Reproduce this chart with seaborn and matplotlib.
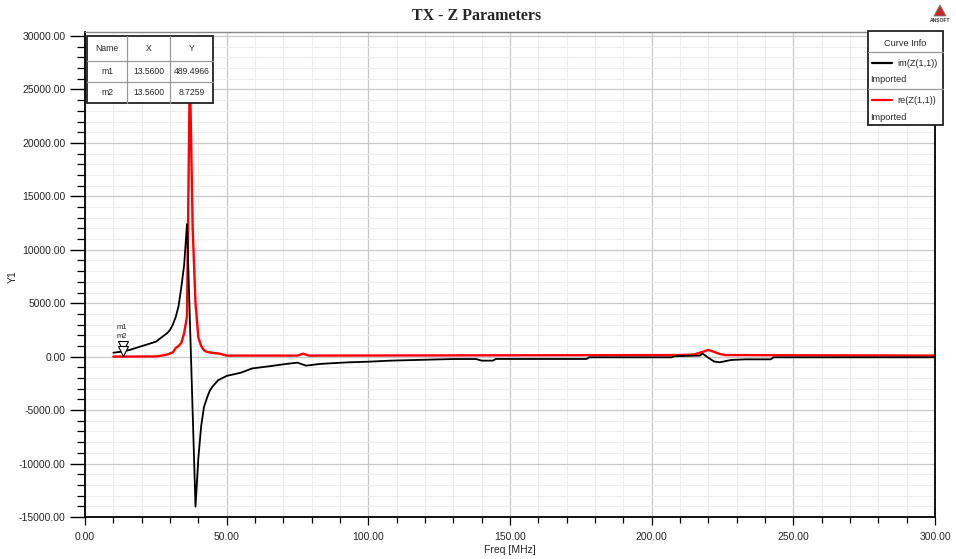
import numpy as np
import pandas as pd
import seaborn as sns
import matplotlib
matplotlib.use("Agg")
import matplotlib.pyplot as plt
from matplotlib.patches import Rectangle, Polygon
from matplotlib.lines import Line2D
from matplotlib.ticker import MultipleLocator, FormatStrFormatter
import matplotlib.transforms as mtransforms

# ---------------- data ----------------
freq_im = [10, 13.56, 16, 19, 22, 25, 27, 29, 30, 31, 32, 33, 34, 35, 36,
           39, 40, 41, 42, 43, 44, 45, 47, 50, 55, 59, 65, 71, 75, 78, 83,
           88, 93, 100, 108, 130, 138, 140, 144, 145, 177, 178, 207, 208,
           217, 218, 220, 222, 224, 228, 233, 242, 243, 300]
im_z = [370, 489.4966, 650, 900, 1150, 1400, 1800, 2200, 2500, 3000, 3700, 4700,
        6500, 8600, 12400,
        -14030, -9500, -6500, -4700, -3900, -3200, -2800, -2200, -1800, -1500,
        -1100, -900, -680, -560, -840, -680,
        -600, -530, -470, -370, -220, -220, -370, -370, -215, -215, -60, -60, 40,
        100, 280, -100, -450, -530, -310, -250, -250, -60, -60]

freq_re = [10, 13.56, 25, 27, 29, 31, 32, 33, 34, 35, 36, 37, 38, 39, 40, 41,
           42, 43, 45, 47, 49, 50, 75, 77, 79, 210, 215, 218, 220, 222, 224,
           226, 300]
re_z = [8, 8.7259, 20, 100, 200, 400, 800, 1000, 1280, 2200, 3800, 27000, 12000,
        5000, 1800, 1000, 600, 450, 350, 300, 180, 100, 100, 280, 100, 150, 200,
        450, 630, 450, 250, 150, 100]

marker_names = ["m1", "m2"]
marker_x = [13.56, 13.56]
marker_y = [489.4966, 8.7259]

series_names = ["im(Z(1,1))", "re(Z(1,1))"]
series_colors = ["black", "#ff0000"]

# ---------------- figure ----------------
sns.set_theme(style="white")
plt.rcParams['font.family'] = ['Liberation Sans', 'DejaVu Sans']

W, H = 956, 559
fig = plt.figure(figsize=(W / 100, H / 100), dpi=100)

def fx(px):
    return px / W

def fy(py):
    return 1 - py / H

ax_l, ax_r, ax_t, ax_b = 85, 935, 32, 517
ax = fig.add_axes([fx(ax_l), fy(ax_b), fx(ax_r) - fx(ax_l), fy(ax_t) - fy(ax_b)])

df_im = pd.DataFrame({"Freq": freq_im, "Z": im_z})
df_re = pd.DataFrame({"Freq": freq_re, "Z": re_z})

sns.lineplot(data=df_im, x="Freq", y="Z", color=series_colors[0], lw=1.3, ax=ax,
             zorder=3, estimator=None, sort=False)
sns.lineplot(data=df_re, x="Freq", y="Z", color=series_colors[1], lw=1.7, ax=ax,
             zorder=2, estimator=None, sort=False)

ax.set_xlim(0, 300)
ax.set_ylim(-15000, 30374)

ax.xaxis.set_major_locator(MultipleLocator(50))
ax.xaxis.set_minor_locator(MultipleLocator(10))
ax.yaxis.set_major_locator(MultipleLocator(5000))
ax.yaxis.set_minor_locator(MultipleLocator(1000))
ax.xaxis.set_major_formatter(FormatStrFormatter("%.2f"))
ax.yaxis.set_major_formatter(FormatStrFormatter("%.2f"))

ax.grid(which="minor", color="#ededed", lw=0.8)
ax.grid(which="major", color="#c8c8c8", lw=0.9)
ax.set_axisbelow(True)

ax.tick_params(axis="y", which="major", direction="out", length=10.5, width=1.0,
               color="black", labelsize=7.5, pad=3.5, left=True)
ax.tick_params(axis="y", which="minor", direction="out", length=5.5, width=0.9,
               color="black", left=True)
ax.tick_params(axis="x", which="major", direction="out", length=6, width=0.9,
               color="black", labelsize=7.5, pad=5, bottom=True)
ax.tick_params(axis="x", which="minor", direction="out", length=4.5, width=0.9,
               color="black", bottom=True)

for s in ["left", "bottom", "right"]:
    ax.spines[s].set_color("black")
    ax.spines[s].set_linewidth(1.3)
ax.spines["top"].set_color("#888888")
ax.spines["top"].set_linewidth(1.0)

ax.set_xlabel("Freq [MHz]", fontsize=7.5, labelpad=2)
ax.set_ylabel("")
fig.text(fx(13), fy(277), "Y1", rotation=90, fontsize=7.5, ha="center", va="center")

fig.text(fx(477), fy(16), "TX - Z Parameters", fontsize=11.5, fontweight="bold",
         family=["Liberation Serif", "DejaVu Serif"], ha="center", va="center")

# ANSOFT logo
logo = Polygon([[fx(934), fy(16)], [fx(946), fy(16)], [fx(940), fy(5)]],
               closed=True, transform=fig.transFigure, facecolor="#c62828",
               edgecolor="#777777", lw=0.6)
fig.add_artist(logo)
fig.text(fx(940), fy(20.5), "ANSOFT", fontsize=3.6, fontweight="bold", color="#333333",
         ha="center", va="center")

# markers
for nm, mx, my in zip(marker_names, marker_x, marker_y):
    tr = mtransforms.offset_copy(ax.transData, fig=fig, x=0, y=4, units="points")
    ax.plot([mx], [my], marker="v", ms=6.5, mfc="white", mec="black", mew=0.8,
            transform=tr, zorder=5, ls="none")
for nm, off in zip(marker_names, [17, 11]):
    ax.annotate(nm, xy=(marker_x[0], marker_y[0]), xytext=(-1.5, off),
                textcoords="offset points", fontsize=5.5, ha="center", va="center",
                zorder=6)

# ---------- marker table ----------
def frect(x0, y0, x1, y1, **kw):
    r = Rectangle((fx(x0), fy(y1)), fx(x1) - fx(x0), fy(y0) - fy(y1),
                  transform=fig.transFigure, **kw)
    fig.add_artist(r)
    return r

def fline(x0, y0, x1, y1, **kw):
    l = Line2D([fx(x0), fx(x1)], [fy(y0), fy(y1)], transform=fig.transFigure, **kw)
    fig.add_artist(l)
    return l

tab_cols = [87, 127, 170, 213]
tab_rows = [36, 61, 82, 103]
tab_text = [["Name", "X", "Y"],
            ["m1", "13.5600", "489.4966"],
            ["m2", "13.5600", "8.7259"]]
frect(tab_cols[0], tab_rows[0], tab_cols[-1], tab_rows[-1], facecolor="white",
      edgecolor="#222222", lw=1.3, zorder=10)
for c in tab_cols[1:-1]:
    fline(c, tab_rows[0], c, tab_rows[-1], color="#999999", lw=0.9, zorder=11)
for r in tab_rows[1:-1]:
    fline(tab_cols[0], r, tab_cols[-1], r, color="#999999", lw=0.9, zorder=11)
for i, row in enumerate(tab_text):
    yc = (tab_rows[i] + tab_rows[i + 1]) / 2
    for j, t in enumerate(row):
        xc = (tab_cols[j] + tab_cols[j + 1]) / 2
        fig.text(fx(xc), fy(yc), t, fontsize=6.2, ha="center", va="center", zorder=12)

# ---------- curve info legend ----------
lg_l, lg_r, lg_t, lg_b = 868, 943, 31, 125
frect(lg_l, lg_t, lg_r, lg_b, facecolor="white", edgecolor="#222222", lw=1.3, zorder=10)
fig.text(fx((lg_l + lg_r) / 2), fy(43), "Curve Info", fontsize=6.6, ha="center",
         va="center", zorder=12)
fline(lg_l, 52, lg_r, 52, color="#999999", lw=0.9, zorder=11)
fline(lg_l, 89, lg_r, 89, color="#999999", lw=0.9, zorder=11)
for nm, col, yl, yi in zip(series_names, series_colors, [63, 100], [80, 117]):
    fline(872, yl, 892, yl, color=col, lw=1.6, zorder=12)
    fig.text(fx(897), fy(yl), nm, fontsize=6.6, ha="left", va="center", zorder=12)
    fig.text(fx(870), fy(yi), "Imported", fontsize=6.6, ha="left", va="center", zorder=12)

fig.savefig("out.png", dpi=100)
